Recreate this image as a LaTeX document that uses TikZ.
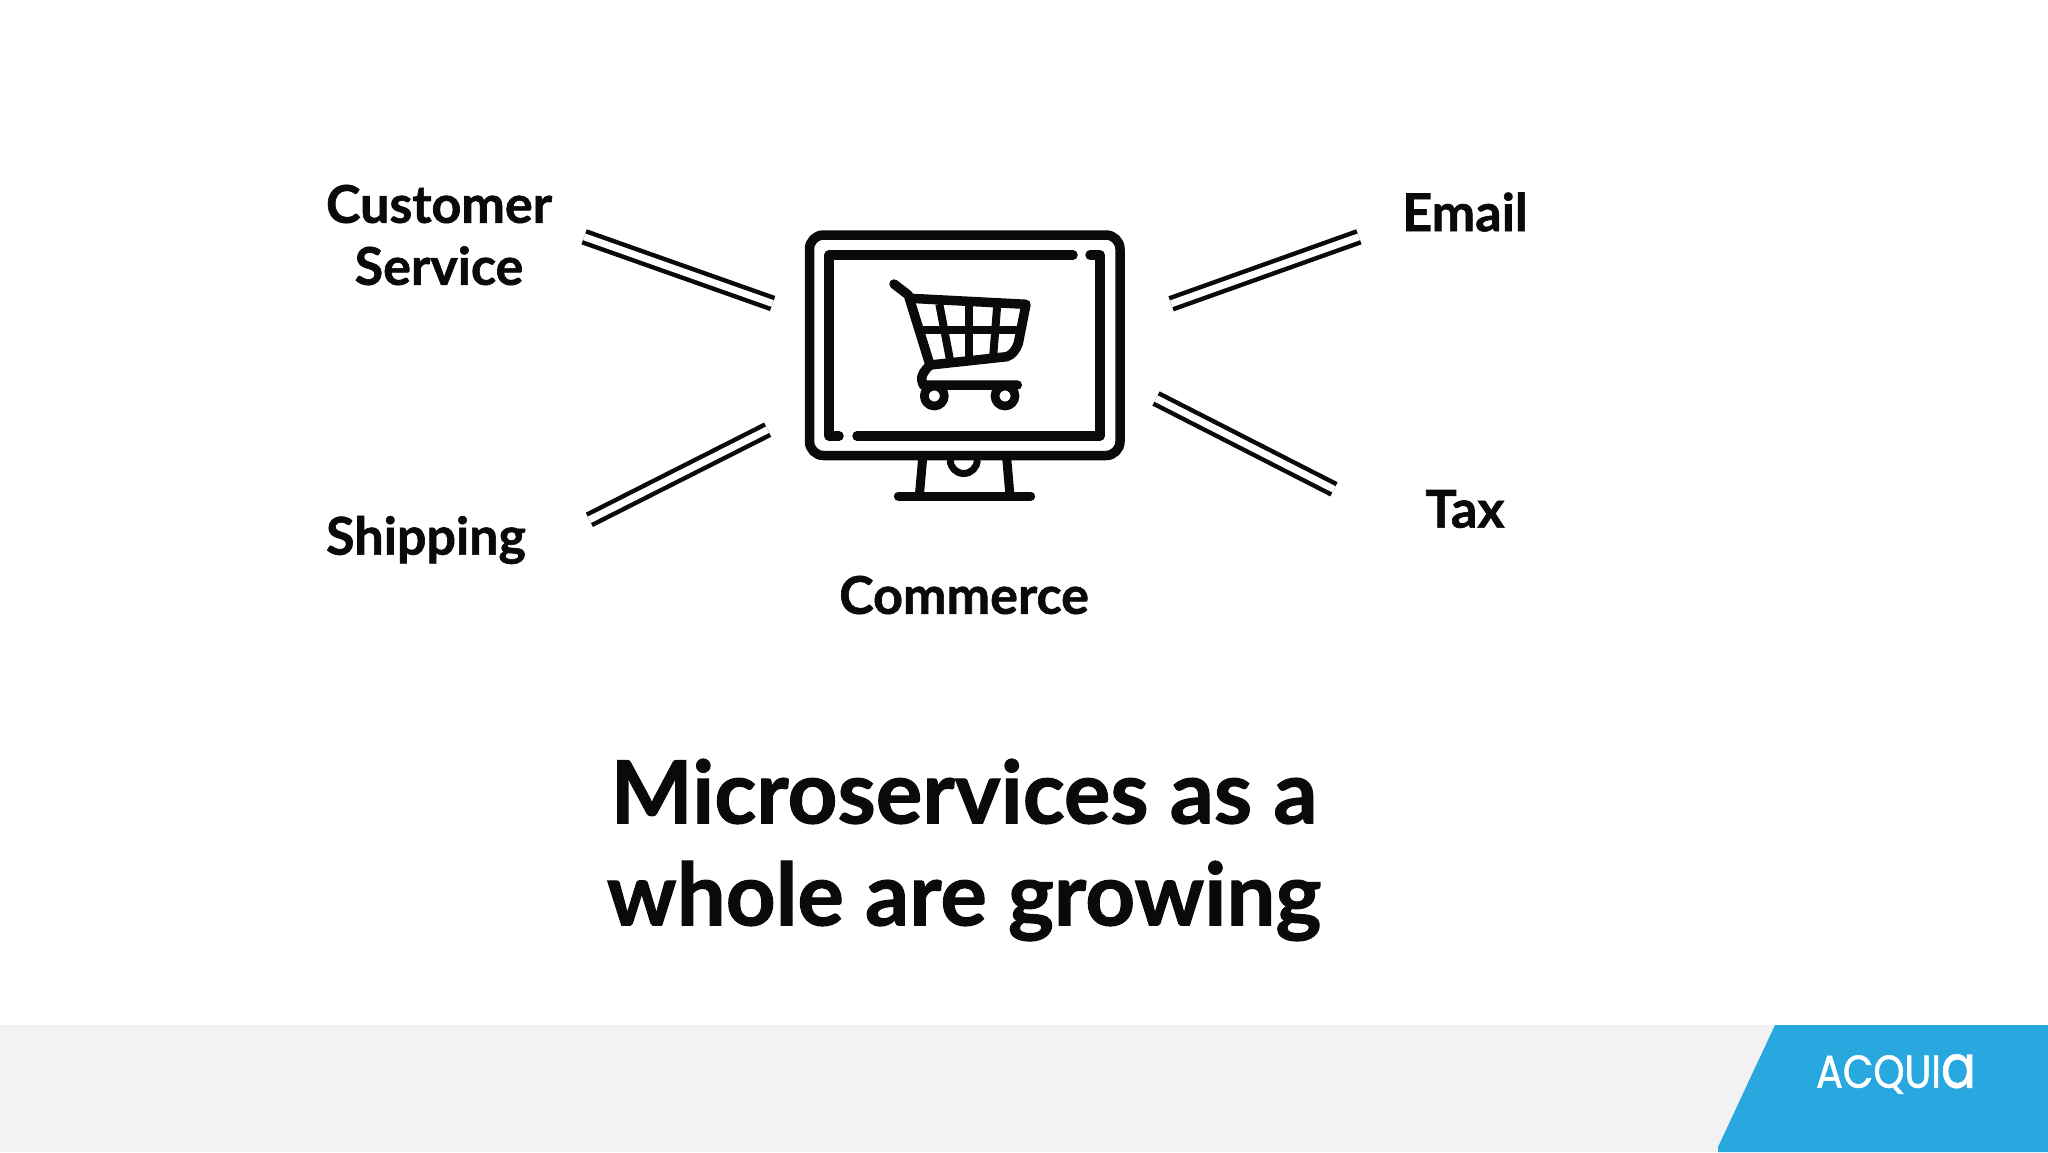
\documentclass[tikz,border=0pt]{standalone}
\usepackage{fontspec}
\setmainfont{Lato}[BoldFeatures={FakeBold=1.2}]
\newfontfamily\logofont[FakeStretch=0.86,FakeBold=1.2]{Poppins}
\definecolor{inkBlack}{HTML}{0A0A0A}
\definecolor{footGray}{HTML}{F2F2F2}
\definecolor{acquiaBlue}{HTML}{29A8E0}

\begin{document}
\begin{tikzpicture}[
    x=1pt, y=-1pt,
    labelNode/.style={text=inkBlack, align=center, inner sep=0pt, font=\bfseries\fontsize{52}{62}\selectfont},
    titleNode/.style={text=inkBlack, align=center, inner sep=0pt, font=\bfseries\fontsize{87}{102}\selectfont},
    pipeLine/.style={draw=inkBlack, double=white, double distance=7pt, line width=4.5pt, shorten >=1.5pt, shorten <=1.5pt},
    iconLine/.style={draw=inkBlack, line width=9.5pt, line cap=round, line join=round},
    cartLine/.style={draw=inkBlack, line width=9.5pt, line cap=round, line join=round},
    gridLine/.style={draw=inkBlack, line width=8pt}
    ]
    \useasboundingbox (0,0) rectangle (2048,1152);

    % Footer
    \fill[footGray] (0,1025) rectangle (2048,1152);
    \fill[acquiaBlue] (1775,1025) -- (2048,1025) -- (2048,1152) -- (1718,1152) -- (1718,1147) -- cycle;
    \node (logoText) [text=white, inner sep=0pt, font=\logofont\fontsize{46}{46}\selectfont] at (1896,1074) {ACQUI{\fontsize{60}{46}\selectfont a}};

    % Nodes
    \node (customerService) [labelNode] at (439,235) {Customer\\Service};
    \node (shippingLabel) [labelNode] at (426,540) {Shipping};
    \node (emailLabel) [labelNode] at (1465,212) {Email};
    \node (taxLabel) [labelNode] at (1465,509) {Tax};
    \node (commerceLabel) [labelNode] at (964,595) {Commerce};
    \node (titleText) [titleNode] at (964,850) {Microservices as a\\whole are growing};

    % Pipe ends
    \coordinate (serviceOut) at (582.7,236.3);
    \coordinate (serviceIn) at (774,304);
    \coordinate (shippingOut) at (588,520.5);
    \coordinate (shippingIn) at (769,429);
    \coordinate (emailIn) at (1169.7,304.3);
    \coordinate (emailOut) at (1360.3,236.3);
    \coordinate (taxIn) at (1154.7,397.8);
    \coordinate (taxOut) at (1335.3,490);

    % Pipes
    \draw[pipeLine] (serviceOut) -- (serviceIn);
    \draw[pipeLine] (shippingOut) -- (shippingIn);
    \draw[pipeLine] (emailIn) -- (emailOut);
    \draw[pipeLine] (taxIn) -- (taxOut);

    % Monitor
    \draw[iconLine, rounded corners=14pt] (809.5,235) rectangle (1120,455.5);
    \draw[iconLine] (1073,255) -- (829,255) -- (829,436) -- (839,436);
    \draw[iconLine] (857,436) -- (1100,436) -- (1100,255) -- (1090,255);
    \draw[iconLine, line width=9pt, line cap=butt] (922.7,458) -- (919.3,496);
    \draw[iconLine, line width=9pt, line cap=butt] (1006.7,458) -- (1010,496);
    \draw[iconLine, line width=9pt] (898.3,496) -- (1030.7,496);
    \draw[iconLine, line width=7pt, line cap=butt] (950.2,460) arc[start angle=180, end angle=0, radius=13.5];

    % Cart
    \draw[cartLine] (894,284) -- (908.3,295) -- (930,365) .. controls (925,370) and (921,375) .. (921.7,380) -- (923.3,385) -- (1017.3,385);
    \draw[cartLine] (910,298.3) -- (1026,304.3) -- (1018.3,343.3) .. controls (1016,350) and (1012,355) .. (1006.7,356.7) -- (930,365);
    \draw[gridLine] (939.3,304) -- (950,360);
    \draw[gridLine] (969.3,303) -- (969.3,358);
    \draw[gridLine] (997.3,304) -- (993.3,355);
    \draw[gridLine] (918,330) -- (1022,330);
    \draw[cartLine, line width=8.7pt] (934.3,396) circle[radius=10];
    \draw[cartLine, line width=8.7pt] (1005,396) circle[radius=10];

\end{tikzpicture}
\end{document}
